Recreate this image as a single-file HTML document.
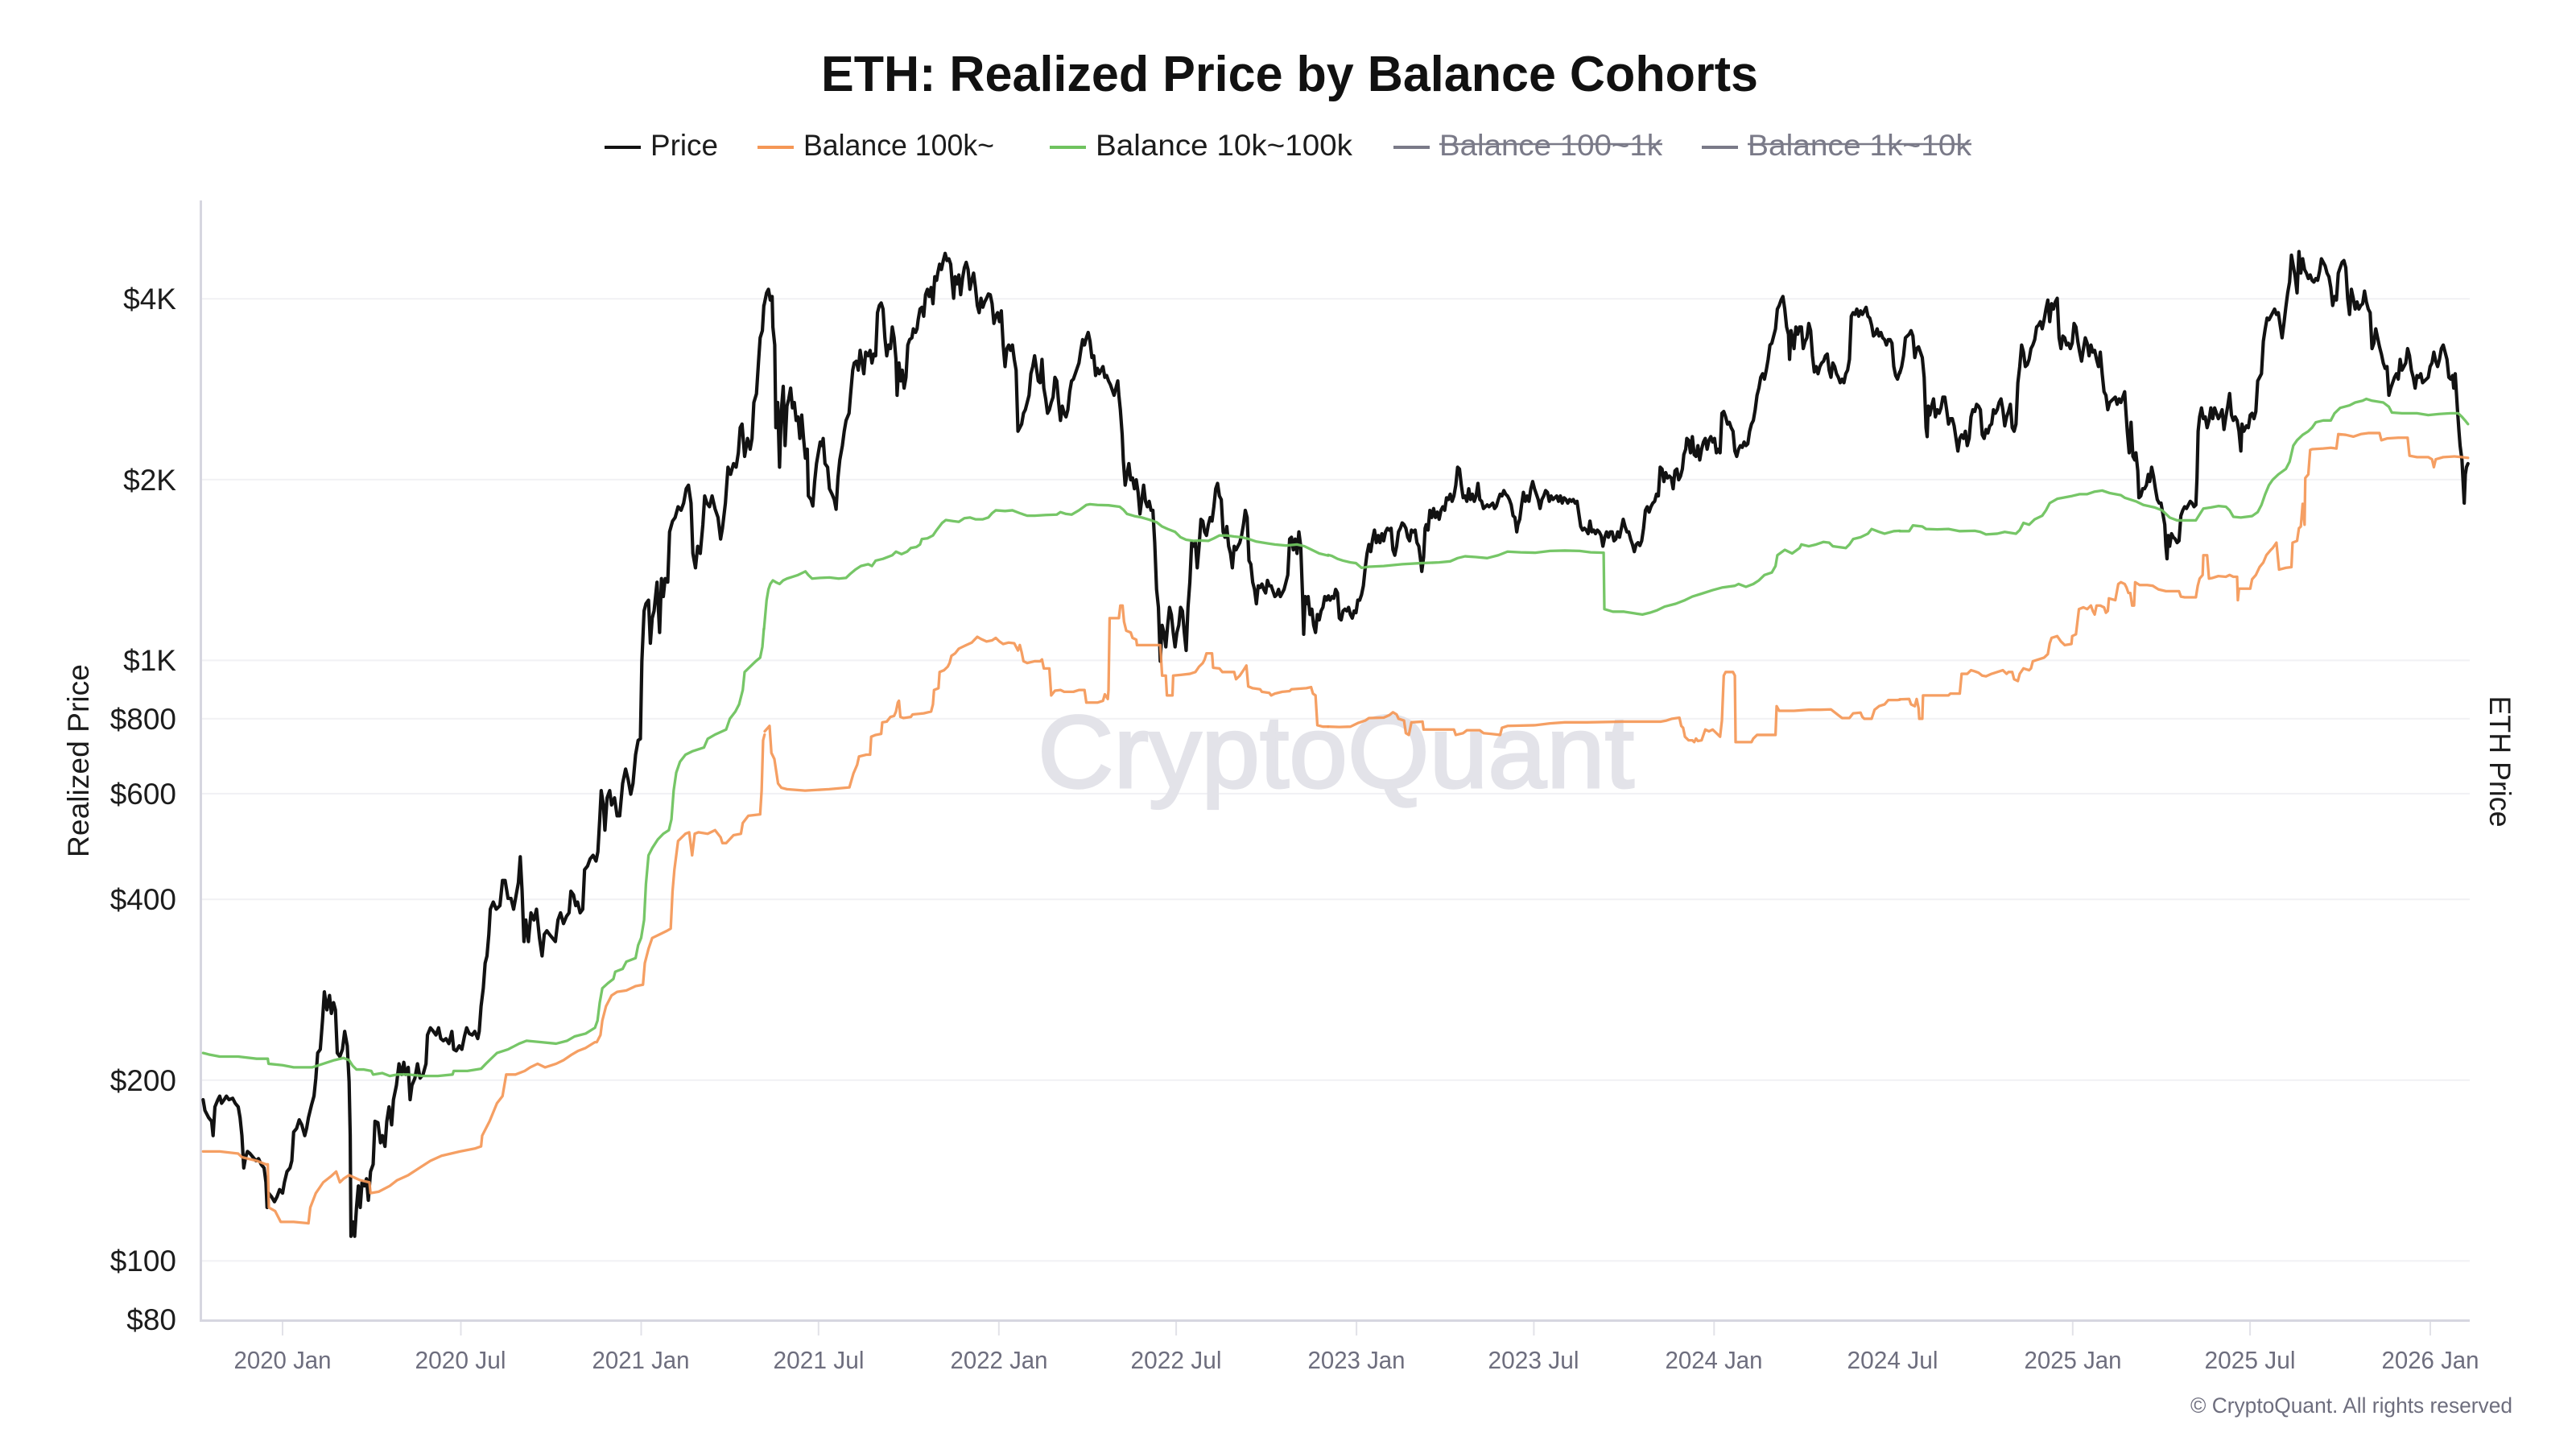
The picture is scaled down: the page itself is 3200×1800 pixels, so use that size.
<!DOCTYPE html>
<html>
<head>
<meta charset="utf-8">
<style>
html,body{margin:0;padding:0;background:#fff;}
body{width:3200px;height:1800px;overflow:hidden;}
svg{display:block;font-family:"Liberation Sans",Arial,sans-serif;}
.s path{fill:none;stroke-linejoin:round;stroke-linecap:round;}
.p{stroke:#121212;stroke-width:4.2;}
.g{stroke:#6fc35f;stroke-width:3.3;opacity:.95}
.o{stroke:#f59756;stroke-width:3.3;opacity:.92}
.yl{font-size:37px;fill:#1c1c1c;text-anchor:end;}
.xl{font-size:31px;fill:#6e6e7e;text-anchor:middle;}
.lg{font-size:37px;fill:#1c1c1c;}
.lgd{font-size:37px;fill:#7a7a88;}
</style>
</head>
<body>
<svg width="3200" height="1800" viewBox="0 0 3200 1800" xmlns="http://www.w3.org/2000/svg">
<rect width="3200" height="1800" fill="#fff"/>

<!-- Title -->
<text x="1020" y="113" font-size="62" font-weight="bold" fill="#111" textLength="1164" lengthAdjust="spacingAndGlyphs">ETH: Realized Price by Balance Cohorts</text>

<!-- Legend -->
<line x1="751" y1="183" x2="796" y2="183" stroke="#121212" stroke-width="4"/>
<text class="lg" x="808" y="193" textLength="84" lengthAdjust="spacingAndGlyphs">Price</text>
<line x1="941" y1="183" x2="986" y2="183" stroke="#f59756" stroke-width="4"/>
<text class="lg" x="998" y="193" textLength="237" lengthAdjust="spacingAndGlyphs">Balance 100k~</text>
<line x1="1304" y1="183" x2="1349" y2="183" stroke="#6fc35f" stroke-width="4"/>
<text class="lg" x="1361" y="193" textLength="319" lengthAdjust="spacingAndGlyphs">Balance 10k~100k</text>
<line x1="1731" y1="183" x2="1776" y2="183" stroke="#7a7a88" stroke-width="4"/>
<text class="lgd" x="1788" y="193" textLength="277" lengthAdjust="spacingAndGlyphs">Balance 100~1k</text>
<line x1="1788" y1="179" x2="2065" y2="179" stroke="#7a7a88" stroke-width="2.5"/>
<line x1="2114" y1="183" x2="2159" y2="183" stroke="#7a7a88" stroke-width="4"/>
<text class="lgd" x="2171" y="193" textLength="278" lengthAdjust="spacingAndGlyphs">Balance 1k~10k</text>
<line x1="2171" y1="179" x2="2449" y2="179" stroke="#7a7a88" stroke-width="2.5"/>

<!-- Gridlines -->
<g stroke="#f1f1f4" stroke-width="2">
<line x1="251" y1="371.3" x2="3068" y2="371.3"/>
<line x1="251" y1="595.8" x2="3068" y2="595.8"/>
<line x1="251" y1="820.4" x2="3068" y2="820.4"/>
<line x1="251" y1="892.7" x2="3068" y2="892.7"/>
<line x1="251" y1="985.9" x2="3068" y2="985.9"/>
<line x1="251" y1="1117.3" x2="3068" y2="1117.3"/>
<line x1="251" y1="1341.8" x2="3068" y2="1341.8"/>
<line x1="251" y1="1566.4" x2="3068" y2="1566.4"/>
</g>

<!-- Watermark -->
<text x="1289" y="978" font-size="128" fill="#e3e3e9" stroke="#e3e3e9" stroke-width="3" textLength="741" lengthAdjust="spacingAndGlyphs">CryptoQuant</text>

<!-- Axes -->
<line x1="249.5" y1="249" x2="249.5" y2="1642" stroke="#d6d6e0" stroke-width="3"/>
<line x1="248" y1="1640.5" x2="3068" y2="1640.5" stroke="#d6d6e0" stroke-width="3"/>
<g stroke="#e2e2e8" stroke-width="2">
<line x1="351" y1="1642" x2="351" y2="1659"/>
<line x1="572.5" y1="1642" x2="572.5" y2="1659"/>
<line x1="796.5" y1="1642" x2="796.5" y2="1659"/>
<line x1="1016.8" y1="1642" x2="1016.8" y2="1659"/>
<line x1="1240.8" y1="1642" x2="1240.8" y2="1659"/>
<line x1="1461.1" y1="1642" x2="1461.1" y2="1659"/>
<line x1="1685.1" y1="1642" x2="1685.1" y2="1659"/>
<line x1="1905.4" y1="1642" x2="1905.4" y2="1659"/>
<line x1="2129.3" y1="1642" x2="2129.3" y2="1659"/>
<line x1="2574.8" y1="1642" x2="2574.8" y2="1659"/>
<line x1="2795.1" y1="1642" x2="2795.1" y2="1659"/>
<line x1="3019" y1="1642" x2="3019" y2="1659"/>
</g>

<!-- Y labels -->
<text class="yl" x="219" y="384">$4K</text>
<text class="yl" x="219" y="609">$2K</text>
<text class="yl" x="219" y="833">$1K</text>
<text class="yl" x="219" y="906">$800</text>
<text class="yl" x="219" y="999">$600</text>
<text class="yl" x="219" y="1130">$400</text>
<text class="yl" x="219" y="1355">$200</text>
<text class="yl" x="219" y="1579">$100</text>
<text class="yl" x="219" y="1652">$80</text>

<!-- X labels -->
<text class="xl" x="351" y="1700" textLength="121" lengthAdjust="spacingAndGlyphs">2020 Jan</text>
<text class="xl" x="572" y="1700" textLength="113" lengthAdjust="spacingAndGlyphs">2020 Jul</text>
<text class="xl" x="796" y="1700" textLength="121" lengthAdjust="spacingAndGlyphs">2021 Jan</text>
<text class="xl" x="1017" y="1700" textLength="113" lengthAdjust="spacingAndGlyphs">2021 Jul</text>
<text class="xl" x="1241" y="1700" textLength="121" lengthAdjust="spacingAndGlyphs">2022 Jan</text>
<text class="xl" x="1461" y="1700" textLength="113" lengthAdjust="spacingAndGlyphs">2022 Jul</text>
<text class="xl" x="1685" y="1700" textLength="121" lengthAdjust="spacingAndGlyphs">2023 Jan</text>
<text class="xl" x="1905" y="1700" textLength="113" lengthAdjust="spacingAndGlyphs">2023 Jul</text>
<text class="xl" x="2129" y="1700" textLength="121" lengthAdjust="spacingAndGlyphs">2024 Jan</text>
<text class="xl" x="2351" y="1700" textLength="113" lengthAdjust="spacingAndGlyphs">2024 Jul</text>
<text class="xl" x="2575" y="1700" textLength="121" lengthAdjust="spacingAndGlyphs">2025 Jan</text>
<text class="xl" x="2795" y="1700" textLength="113" lengthAdjust="spacingAndGlyphs">2025 Jul</text>
<text class="xl" x="3019" y="1700" textLength="121" lengthAdjust="spacingAndGlyphs">2026 Jan</text>

<!-- Axis titles -->
<text transform="translate(110,945) rotate(-90)" font-size="37" fill="#1c1c1c" text-anchor="middle" textLength="240" lengthAdjust="spacingAndGlyphs">Realized Price</text>
<text transform="translate(3093,946) rotate(90)" font-size="37" fill="#1c1c1c" text-anchor="middle" textLength="163" lengthAdjust="spacingAndGlyphs">ETH Price</text>

<!-- Copyright -->
<text x="3121" y="1755" font-size="27" fill="#6e6e7e" text-anchor="end" textLength="400" lengthAdjust="spacingAndGlyphs">© CryptoQuant. All rights reserved</text>

<!-- SERIES: Price -->
<g class="s">
<g transform="translate(250 250) scale(0.459184 0.892857)">
<path class="p" vector-effect="non-scaling-stroke" d="M5,1250 L10,1265 20,1275 28,1280 32,1300 37,1260 45,1250 50,1245 55,1255 62,1250 68,1245 75,1250 85,1248 92,1255 100,1260 105,1275 110,1300 115,1345 120,1330 125,1322 132,1325 140,1330 148,1335 155,1332 162,1340 170,1345 175,1365 178,1400 182,1380 190,1385 198,1392 205,1385 212,1375 220,1380 225,1365 232,1350 240,1345 245,1335 250,1295 258,1290 265,1278 272,1285 280,1300 285,1290 290,1275 298,1258 305,1245 310,1220 315,1185 322,1180 328,1140 333,1100 340,1125 347,1105 352,1130 358,1115 363,1125 368,1185 375,1190 382,1180 388,1155 395,1175 400,1225 403,1300 405,1440 410,1420 415,1440 420,1400 425,1370 430,1400 435,1365 442,1370 447,1360 452,1390 458,1350 465,1340 470,1280 478,1282 485,1310 490,1300 497,1315 502,1280 508,1260 515,1285 520,1250 528,1230 535,1200 542,1215 548,1198 553,1215 560,1205 565,1250 570,1230 578,1220 585,1200 592,1220 600,1215 608,1200 612,1160 620,1150 628,1155 635,1160 642,1150 648,1165 655,1168 662,1165 670,1172 678,1155 683,1180 690,1182 698,1175 705,1180 712,1162 718,1150 725,1158 733,1160 740,1155 748,1165 752,1155 757,1120 763,1095 768,1060 773,1050 778,1020 782,985 790,975 798,985 808,980 815,945 822,945 830,970 838,970 845,985 852,965 858,948 863,912 868,960 873,1030 878,1000 885,1030 892,990 900,1000 907,985 915,1025 922,1050 928,1020 935,1015 942,1020 950,1025 958,1030 965,1000 972,990 980,1005 988,995 995,990 1000,960 1007,965 1013,980 1018,975 1025,990 1032,985 1037,930 1045,925 1052,915 1060,910 1068,918 1073,905 1078,860 1082,820 1088,840 1092,875 1098,830 1105,820 1110,840 1118,830 1125,855 1132,855 1140,810 1148,790 1155,805 1162,825 1168,810 1175,770 1182,750 1188,748 1192,640 1198,570 1203,560 1210,555 1215,615 1220,580 1225,570 1233,530 1240,600 1245,525 1250,550 1255,525 1262,530 1267,460 1275,445 1282,440 1290,425 1298,430 1305,420 1312,400 1318,395 1325,420 1330,490 1337,510 1343,480 1350,490 1357,450 1362,410 1368,420 1375,425 1382,410 1390,428 1398,440 1405,470 1410,455 1418,420 1425,370 1432,380 1440,365 1447,370 1453,350 1458,315 1463,310 1470,355 1478,330 1485,345 1490,330 1495,280 1502,268 1508,220 1512,190 1518,180 1522,145"/>
</g>
<g transform="translate(950 250) scale(0.459184 0.446429)">
<path class="p" vector-effect="non-scaling-stroke" d="M-2,290 L5,255 10,245 15,275 20,265 22,350 27,400 30,630 35,560 40,740 45,580 50,515 55,680 60,570 65,550 70,520 75,575 80,560 85,610 90,600 95,660 100,595 105,660 110,715 115,690 118,820 125,830 130,848 135,780 140,730 145,700 150,670 155,680 158,660 163,730 170,740 175,800 182,815 188,830 193,857 198,770 203,720 210,680 215,640 220,610 228,590 232,540 238,470 242,450 248,445 253,470 258,415 262,440 268,480 273,420 280,430 285,415 290,450 295,425 300,430 305,310 310,290 315,283 320,300 325,380 330,430 335,400 340,410 345,350 350,380 355,440 358,540 363,450 368,500 372,470 377,520 382,490 387,400 392,385 398,380 402,355 408,365 412,355 415,330 420,300 425,295 430,320 435,260 440,245 445,265 450,240 455,285 460,210 465,220 468,200 473,175 478,190 483,165 488,145 493,165 498,160 503,175 507,225 511,270 515,210 520,230 525,205 530,260 535,215 540,185 545,170 550,190 555,245 560,220 565,200 570,240 575,290 580,310 585,270 590,295 595,280 600,270 605,258 610,260 615,285 620,340 625,320 630,310 635,335 640,305 645,400 650,460 655,410 660,400 665,415 670,400 675,440 680,470 685,640 690,630 695,620 700,590 705,580 710,560 715,540 720,480 725,460 730,430 735,465 740,500 745,505 750,440 755,520 760,550 765,590 770,580 775,560 780,545 785,490 790,500 795,560 800,610 805,570 810,590 815,600 820,580 825,530 830,500 835,495 840,480 845,465 850,450 855,415 860,385 865,400 870,380 875,365 880,390 885,435 890,430 895,485 900,465 905,480 910,470 915,460 920,490 925,485 930,500 935,510 940,525 945,540 950,520 955,500 958,540 962,580 967,650 970,720 975,790 980,760 985,730 990,775 995,770 1000,800 1005,775 1010,810 1015,870 1020,830 1025,790 1030,835 1035,850 1040,835 1045,860 1050,860 1055,950 1060,1080 1065,1130 1070,1280 1075,1180 1080,1200 1085,1240 1090,1180 1095,1130 1100,1150 1105,1200 1110,1240 1115,1200 1120,1180 1125,1130 1130,1140 1135,1200 1140,1250 1145,1130 1150,1060 1155,950 1160,960 1165,950 1170,1020 1175,960 1180,885 1185,890 1190,920 1195,930 1200,900 1205,880 1210,890 1215,850 1220,800 1225,785 1230,820 1235,830 1240,920 1245,935 1250,905 1255,960 1260,980 1265,1020 1270,960 1275,970 1280,960 1285,950 1290,930 1295,900 1300,860 1305,880 1310,1000 1315,1010 1320,1060 1325,1080 1330,1120 1335,1070 1340,1075 1345,1065 1350,1080 1355,1090 1360,1055 1365,1070 1370,1070 1375,1085 1380,1100 1385,1095 1390,1080 1395,1100 1400,1090 1405,1080 1410,1060 1415,1040 1420,940 1425,935 1430,970 1435,940 1440,980 1445,920 1450,960 1455,1100 1458,1205 1462,1100 1466,1120 1470,1100 1475,1150 1480,1135 1485,1180 1490,1200 1495,1150 1500,1165 1505,1140 1510,1130 1515,1100 1520,1110 1525,1098"/>
</g>
<g transform="translate(1650 250) scale(0.459184 0.446429)">
<path class="p" vector-effect="non-scaling-stroke" d="M-1,1100 L5,1110 10,1100 15,1105 20,1080 25,1090 30,1160 35,1165 40,1140 45,1135 50,1140 55,1130 60,1150 65,1160 70,1140 75,1145 80,1110 85,1110 90,1095 95,1070 100,1020 105,980 110,955 115,975 120,940 125,915 130,950 135,930 140,950 145,925 150,945 155,920 160,910 165,915 170,910 175,970 180,985 185,960 190,920 195,910 200,895 205,900 210,910 215,935 220,945 225,915 230,920 235,915 240,950 245,960 250,1000 253,1030 258,990 262,910 265,900 270,915 275,860 280,880 285,855 290,880 295,865 300,885 305,860 310,850 315,860 320,825 325,830 330,815 335,835 340,820 345,790 350,740 355,745 360,790 365,825 370,820 375,835 380,800 385,830 390,815 395,835 400,820 405,785 410,830 415,835 420,855 425,850 430,845 435,850 440,845 445,840 450,855 455,848 460,830 465,815 470,820 475,805 480,815 485,820 490,830 495,845 500,875 505,880 510,920 513,900 518,885 523,845 528,810 533,835 538,820 543,835 548,800 553,780 558,800 563,815 568,830 573,855 578,830 583,820 588,805 593,810 598,835 603,820 608,830 613,825 618,820 623,835 628,820 633,840 638,825 643,830 648,840 653,830 658,835 663,830 668,840 673,835 678,870 683,905 688,915 693,910 698,915 703,925 708,890 713,920 718,915 723,925 728,915 733,920 738,930 743,960 748,935 753,920 758,935 763,920 768,920 773,945 778,940 783,920 788,935 793,910 798,885 803,905 808,920 813,920 818,940 823,955 828,975 833,955 838,950 843,958 848,945 853,910 858,860 863,850 868,865 873,850 878,840 883,835 888,815 893,820 898,740 903,745 908,780 913,755 918,770 923,765 928,770 933,800 938,750 943,745 948,775 953,765 958,745 962,705 967,690 970,660 975,665 980,700 985,655 990,705 995,710 1000,680 1005,720 1010,690 1015,670 1020,660 1025,690 1030,665 1035,655 1040,670 1045,660 1050,700 1055,690 1060,700 1065,590 1070,585 1075,600 1080,620 1085,615 1090,630 1095,640 1100,695 1105,710 1110,690 1115,680 1120,685 1125,670 1130,680 1135,675 1140,640 1145,620 1150,610 1155,580 1160,540 1165,520 1170,490 1175,480 1180,495 1185,470 1190,440 1195,400 1200,395 1205,375 1210,355 1215,300 1220,290 1225,275 1230,265 1235,300 1240,350 1245,370 1248,440 1252,360 1256,380 1260,410 1265,350 1270,370 1275,350 1280,350 1285,410 1290,390 1295,380 1300,340 1305,360 1310,430 1315,475 1320,460 1325,480 1330,460 1335,450 1340,445 1345,430 1350,425 1355,470 1360,490 1365,450 1370,460 1375,480 1380,490 1385,505 1390,495 1395,505 1400,480 1405,470 1410,440 1415,320 1420,310 1425,315 1430,300 1435,320 1440,305 1445,315 1450,305 1455,295 1460,320 1465,325 1470,345 1475,375 1480,370 1485,355 1490,375 1495,365 1500,380 1505,385 1510,400 1515,385 1520,385 1525,395 1530,460 1535,485 1540,495 1546,475"/>
</g>
<g transform="translate(2360 250) scale(0.465561 0.446429)">
<path class="p" vector-effect="non-scaling-stroke" d="M0,478 L5,460 10,430 15,380 20,375 25,370 30,360 35,375 40,435 45,410 50,405 55,420 60,435 65,490 70,630 73,655 76,570 80,595 85,570 90,550 95,600 100,580 105,590 110,575 115,545 120,545 125,580 130,620 135,605 140,605 145,625 150,660 155,695 160,660 165,650 170,660 175,640 180,680 185,660 190,600 195,580 200,585 205,565 210,570 215,580 220,650 225,660 230,635 235,645 240,625 245,620 250,580 255,590 260,580 265,560 270,550 275,580 280,625 285,600 290,585 295,565 300,630 305,640 310,620 315,505 320,460 325,400 330,420 335,460 340,455 345,440 350,410 355,400 360,385 365,350 370,345 375,335 380,355 385,330 390,300 395,275 400,335 405,285 410,300 415,280 420,270 425,380 430,410 435,375 440,380 445,400 450,395 455,410 460,395 465,340 470,350 475,390 480,420 485,445 490,410 495,380 500,395 505,430 510,400 515,420 520,415 525,440 530,460 535,420 540,480 545,530 550,540 555,580 560,560 565,555 570,550 575,545 580,565 585,550 590,560 595,545 600,530 603,580 607,640 612,700 617,615 622,710 627,720 630,700 635,750 638,825 643,820 648,800 653,800 658,790 663,760 667,780 672,740 677,765 682,800 687,830 692,840 697,840 702,870 707,900 710,960 713,995 716,930 720,960 725,925 730,935 735,940 740,950 745,945 750,875 755,860 760,850 765,855 770,845 775,835 780,840 785,850 790,845 793,770 796,640 800,600 805,575 810,605 815,600 820,630 825,610 830,575 835,605 840,575 845,590 850,605 855,595 860,580 865,635 870,600 875,570 880,535 885,595 890,610 895,600 900,610 905,640 910,695 913,620 918,640 925,625 930,630 935,595 940,590 945,605 950,585 955,500 960,490 965,480 970,390 975,355 980,325 985,330 990,320 995,310 1000,300 1005,315 1010,310 1015,345 1020,380 1025,340 1030,295 1035,255 1040,225 1045,150 1050,180 1055,210 1060,255 1065,140 1070,200 1075,160 1080,190 1085,200 1090,215 1095,205 1100,220 1105,225 1110,215 1115,220 1120,195 1125,160 1130,170 1135,180 1140,200 1145,210 1150,240 1155,290 1160,265 1165,275 1170,200 1175,185 1180,170 1185,165 1190,185 1195,270 1200,315 1205,245 1210,270 1215,300 1220,280 1225,300 1230,290 1235,285 1240,250 1245,280 1250,300 1255,310 1260,410 1265,395 1270,355 1275,380 1280,405 1285,425 1290,450 1295,465 1300,460 1305,540 1310,520 1315,505 1320,490 1325,480 1330,495 1335,440 1340,470 1345,460 1350,450 1355,410 1360,430 1365,470 1370,490 1375,520 1380,485 1385,490 1390,480 1395,505 1400,500 1405,495 1410,490 1415,460 1420,450 1425,420 1430,445 1435,460 1440,440 1445,410 1450,400 1455,420 1460,440 1465,490 1470,495 1475,485 1478,520 1482,480 1485,530 1488,580 1492,640 1495,680 1500,720 1503,780 1506,840 1509,760 1512,740 1516,730"/>
</g>

<!-- SERIES: Balance 10k~100k (green) -->
<g transform="translate(250 250) scale(0.459184 0.892857)">
<path class="g" vector-effect="non-scaling-stroke" d="M5,1185 L20,1187 50,1190 100,1190 150,1193 180,1193 182,1200 220,1202 250,1205 300,1205 330,1200 360,1195 385,1192 400,1195 410,1203 420,1208 440,1208 460,1210 465,1215 490,1213 510,1217 530,1215 560,1215 600,1217 640,1217 680,1215 683,1210 720,1210 757,1207 770,1200 790,1190 800,1185 830,1180 860,1172 880,1168 920,1170 960,1172 990,1168 1010,1162 1040,1158 1065,1150 1072,1140 1078,1115 1085,1095 1100,1088 1115,1082 1120,1072 1140,1068 1150,1058 1175,1053 1182,1035 1190,1025 1198,1000 1203,950 1210,910 1220,900 1235,888 1250,880 1265,875 1272,860 1278,820 1285,795 1295,780 1310,770 1330,765 1360,760 1370,748 1390,742 1420,735 1430,720 1445,710 1455,700 1465,680 1470,655 1480,650 1500,640 1512,635 1518,620 1522,595"/>
</g>
<g transform="translate(950 250) scale(0.459184 0.446429)">
<path class="g" vector-effect="non-scaling-stroke" d="M-2,1190 L5,1110 10,1080 15,1065 22,1055 30,1060 40,1065 50,1055 60,1050 75,1045 90,1040 100,1035 110,1030 118,1040 128,1050 150,1048 175,1047 200,1050 220,1048 230,1038 245,1025 260,1015 280,1010 290,1015 300,1000 320,995 345,985 355,975 370,982 385,975 395,965 410,962 420,955 425,940 440,938 455,930 465,915 480,895 490,887 510,890 525,892 540,882 555,880 570,885 590,885 605,880 615,868 625,860 650,862 670,860 690,868 710,875 730,875 760,873 790,872 800,865 815,870 830,872 850,860 870,845 880,843 900,845 930,846 960,850 970,858 980,870 1000,876 1020,880 1040,886 1060,893 1075,905 1090,912 1110,920 1125,935 1140,942 1160,945 1180,944 1200,945 1215,938 1230,930 1250,930 1270,933 1290,935 1310,940 1330,947 1360,952 1380,955 1410,958 1440,955 1460,960 1480,970 1500,980 1524,986"/>
</g>
<g transform="translate(1650 250) scale(0.459184 0.446429)">
<path class="g" vector-effect="non-scaling-stroke" d="M0,984 L10,987 25,995 40,1000 60,1005 75,1007 90,1020 110,1017 150,1015 200,1010 250,1007 300,1005 330,1002 350,993 370,988 400,990 430,993 460,985 485,975 520,977 560,978 600,973 640,972 680,973 710,977 745,978 747,1135 770,1142 800,1142 830,1147 850,1150 870,1145 890,1138 910,1128 940,1120 965,1110 985,1100 1010,1092 1040,1082 1065,1075 1100,1070 1110,1065 1130,1073 1150,1065 1165,1055 1180,1040 1200,1033 1210,1015 1215,985 1235,970 1255,980 1275,965 1280,955 1300,960 1320,955 1340,948 1355,950 1365,960 1380,962 1400,965 1410,955 1420,940 1440,935 1460,925 1470,912 1490,920 1505,925 1530,918 1546,917"/>
</g>
<g transform="translate(2360 250) scale(0.465561 0.446429)">
<path class="g" vector-effect="non-scaling-stroke" d="M0,918 L25,918 35,902 60,905 70,912 100,913 130,912 160,918 200,917 215,920 230,927 260,925 280,920 310,925 320,915 330,895 345,900 360,885 380,875 390,860 400,840 420,828 440,824 460,820 480,815 500,815 520,808 540,805 560,812 590,818 600,825 630,835 650,845 680,852 700,860 720,880 740,888 790,888 810,855 830,852 850,848 870,850 880,860 890,878 910,880 940,876 955,865 965,845 975,815 985,790 995,775 1010,760 1030,745 1040,725 1050,680 1060,665 1075,650 1090,640 1100,630 1110,615 1130,610 1150,610 1160,590 1175,575 1200,568 1215,560 1235,555 1245,550 1260,555 1290,560 1305,572 1313,588 1340,590 1380,590 1410,595 1440,592 1470,590 1490,590 1500,600 1510,612 1516,620"/>
</g>

<!-- SERIES: Balance 100k~ (orange) -->
<g transform="translate(250 250) scale(0.459184 0.892857)">
<path class="o" vector-effect="non-scaling-stroke" d="M5,1322 L50,1322 100,1325 110,1330 150,1335 175,1340 180,1340 183,1400 200,1405 215,1420 250,1420 290,1422 295,1400 310,1380 330,1365 350,1357 365,1350 375,1365 385,1360 400,1355 430,1362 455,1365 458,1380 480,1378 510,1370 530,1362 560,1355 590,1345 620,1335 650,1328 700,1322 740,1318 757,1315 760,1300 780,1280 800,1255 815,1245 825,1215 850,1215 875,1210 890,1205 910,1200 930,1205 960,1200 980,1195 1000,1188 1020,1182 1040,1178 1065,1170 1070,1170 1080,1160 1085,1140 1095,1120 1110,1105 1125,1100 1150,1098 1175,1092 1195,1090 1200,1060 1210,1040 1220,1025 1240,1020 1260,1015 1270,1012 1275,960 1280,930 1290,890 1300,885 1310,880 1320,878 1328,910 1335,880 1345,878 1370,880 1390,875 1405,885 1410,893 1420,893 1440,882 1460,880 1465,865 1480,855 1512,853 1516,820 1520,750 1524,742"/>
</g>
<g transform="translate(950 250) scale(0.459184 0.446429)">
<path class="o" vector-effect="non-scaling-stroke" d="M0,1475 L6,1468 13,1460 18,1535 26,1552 36,1620 45,1632 60,1636 109,1640 174,1636 229,1631 240,1592 250,1568 255,1545 275,1540 285,1540 288,1490 300,1485 315,1482 318,1450 330,1448 340,1435 350,1432 355,1420 360,1395 363,1390 367,1435 375,1438 395,1435 400,1428 430,1425 450,1420 455,1400 458,1360 470,1355 473,1310 485,1305 495,1295 500,1285 505,1265 515,1258 525,1245 535,1240 545,1235 560,1228 575,1212 585,1218 600,1225 615,1222 625,1215 635,1225 645,1232 660,1228 675,1230 685,1250 690,1235 695,1255 700,1280 710,1285 730,1280 745,1280 750,1275 755,1300 770,1300 775,1375 785,1362 800,1360 810,1365 835,1365 850,1360 865,1360 870,1395 900,1395 915,1390 920,1372 928,1385 930,1360 933,1160 950,1160 958,1160 962,1125 968,1125 972,1170 978,1195 990,1200 995,1215 1005,1220 1007,1235 1040,1235 1070,1235 1075,1320 1085,1320 1088,1375 1103,1375 1105,1320 1125,1318 1150,1315 1165,1310 1175,1295 1185,1285 1190,1275 1195,1258 1210,1258 1213,1298 1230,1300 1238,1310 1270,1310 1275,1330 1285,1320 1295,1305 1303,1292 1308,1350 1320,1355 1340,1358 1345,1365 1365,1368 1370,1375 1380,1370 1400,1365 1420,1363 1425,1358 1465,1355 1478,1352 1483,1370 1490,1375 1495,1458 1510,1462 1524,1462"/>
</g>
<g transform="translate(1650 250) scale(0.459184 0.446429)">
<path class="o" vector-effect="non-scaling-stroke" d="M0,1462 L30,1463 60,1462 80,1452 100,1445 110,1438 150,1437 165,1430 175,1422 185,1428 190,1440 205,1445 210,1480 218,1485 225,1450 255,1448 258,1470 300,1470 340,1470 345,1485 365,1480 375,1472 410,1472 420,1480 440,1482 465,1485 470,1465 485,1460 560,1458 600,1453 640,1450 700,1450 800,1448 900,1448 915,1445 930,1440 950,1437 955,1460 960,1465 965,1490 975,1500 985,1500 990,1505 995,1495 1000,1502 1010,1500 1020,1470 1030,1475 1040,1470 1050,1480 1055,1485 1060,1490 1065,1445 1070,1320 1075,1310 1095,1310 1100,1320 1102,1505 1125,1505 1145,1505 1150,1495 1160,1485 1210,1485 1213,1405 1220,1418 1260,1418 1300,1415 1330,1415 1360,1414 1365,1418 1380,1430 1390,1438 1410,1438 1420,1425 1440,1423 1445,1435 1450,1440 1470,1440 1478,1415 1490,1405 1505,1400 1515,1388 1540,1388 1546,1387"/>
</g>
<g transform="translate(2360 250) scale(0.465561 0.446429)">
<path class="o" vector-effect="non-scaling-stroke" d="M0,1386 L25,1385 30,1400 40,1405 45,1385 50,1410 52,1440 60,1440 62,1375 80,1375 130,1375 135,1370 160,1370 165,1315 180,1315 190,1305 200,1308 210,1312 220,1320 230,1322 245,1315 260,1310 275,1305 285,1315 290,1310 300,1310 305,1330 315,1335 320,1315 330,1300 345,1305 350,1300 355,1280 370,1275 385,1270 395,1260 400,1230 405,1215 420,1210 430,1225 440,1235 458,1232 460,1210 470,1205 478,1135 490,1130 500,1135 510,1125 515,1140 520,1150 525,1125 535,1125 545,1130 550,1145 555,1140 558,1105 575,1110 583,1065 590,1060 600,1065 605,1075 610,1090 615,1090 620,1125 625,1125 628,1060 640,1068 660,1068 675,1070 690,1080 710,1085 730,1085 745,1085 750,1100 760,1102 790,1102 795,1070 800,1050 808,1040 810,985 820,985 825,1050 835,1048 850,1043 870,1045 880,1040 890,1045 900,1045 902,1110 905,1078 935,1078 940,1052 950,1040 960,1018 970,1005 978,985 990,970 995,965 1005,950 1012,1025 1030,1020 1045,1018 1048,950 1060,945 1065,910 1070,905 1075,842 1080,900 1082,770 1090,760 1095,692 1100,690 1130,688 1150,686 1165,688 1170,648 1190,650 1210,655 1230,648 1250,645 1280,645 1285,665 1300,660 1330,658 1355,658 1360,708 1380,712 1410,712 1420,718 1425,740 1430,718 1450,712 1480,710 1500,712 1516,714"/>
</g>
</g>
</svg>
</body>
</html>
